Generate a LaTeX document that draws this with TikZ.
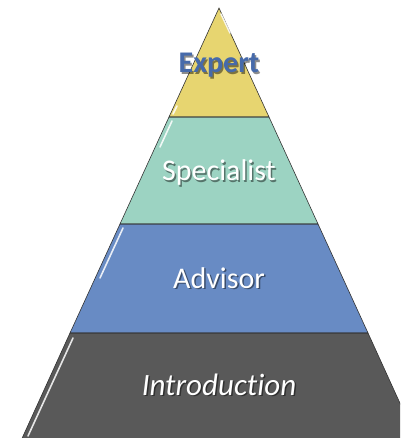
\documentclass[tikz,border=0pt]{standalone}
\usepackage{fontspec}
\setmainfont[Ligatures={NoCommon}]{Carlito}
\definecolor{lvyellow}{RGB}{231,213,112}
\definecolor{lvteal}{RGB}{156,211,194}
\definecolor{lvblue}{RGB}{104,139,196}
\definecolor{lvgray}{RGB}{89,89,89}
\definecolor{lvtext}{RGB}{70,106,170}
\tikzset{
  band/.style={draw=black!80, line width=0.6pt, line join=miter},
  gloss/.style={draw=white, line width=1.6pt, line cap=round, opacity=0.85},
  lbl/.style={anchor=base, font=\fontsize{30}{30}\selectfont, text=white, inner sep=0pt},
  lblshadow/.style={anchor=base, font=\fontsize{30}{30}\selectfont, text=black, opacity=0.45, inner sep=0pt},
}
\begin{document}
\begin{tikzpicture}[x=1pt,y=-1pt]
\useasboundingbox (0,0) rectangle (400,438);
\clip (0,0) rectangle (400,438);
% bands
\fill[lvyellow] (219,8) -- (269,117) -- (169,117) -- cycle;
\fill[lvteal] (169,117) -- (269,117) -- (318,224) -- (120,224) -- cycle;
\fill[lvblue] (120,224) -- (318,224) -- (368,333) -- (70,333) -- cycle;
\fill[lvgray] (70,333) -- (368,333) -- (419,445) -- (19,445) -- cycle;
% outlines
\draw[band] (219,8) -- (269,117) -- (169,117) -- cycle;
\draw[band] (169,117) -- (269,117) -- (318,224) -- (120,224) -- cycle;
\draw[band] (120,224) -- (318,224) -- (368,333) -- (70,333) -- cycle;
\draw[band] (70,333) -- (368,333) -- (419,445) -- (19,445) -- cycle;
% gloss highlights
\draw[gloss] (221,14) -- (230,33);
\draw[gloss] (173,114) -- (177,106);
\draw[gloss] (172,121) -- (160,147);
\draw[gloss] (123,228) -- (100,278);
\draw[gloss] (73,338) -- (28,436);
% labels with shadows
\node[lblshadow, text=black, font=\fontsize{30}{30}\selectfont\bfseries] (expertsh) at (220.5,74.5) {Expert};
\node[lbl, text=lvtext, font=\fontsize{30}{30}\selectfont\bfseries] (expert) at (219,73) {Expert};
\node[lblshadow] (specsh) at (220.5,182.5) {Specialist};
\node[lbl] (spec) at (219,181) {Specialist};
\node[lblshadow] (advsh) at (220.5,289.5) {Advisor};
\node[lbl] (adv) at (219,288) {Advisor};
\node[lblshadow, font=\fontsize{31}{31}\selectfont\itshape] (introsh) at (220.5,396.5) {Introduction};
\node[lbl, font=\fontsize{31}{31}\selectfont\itshape] (intro) at (219,395) {Introduction};
\end{tikzpicture}
\end{document}
